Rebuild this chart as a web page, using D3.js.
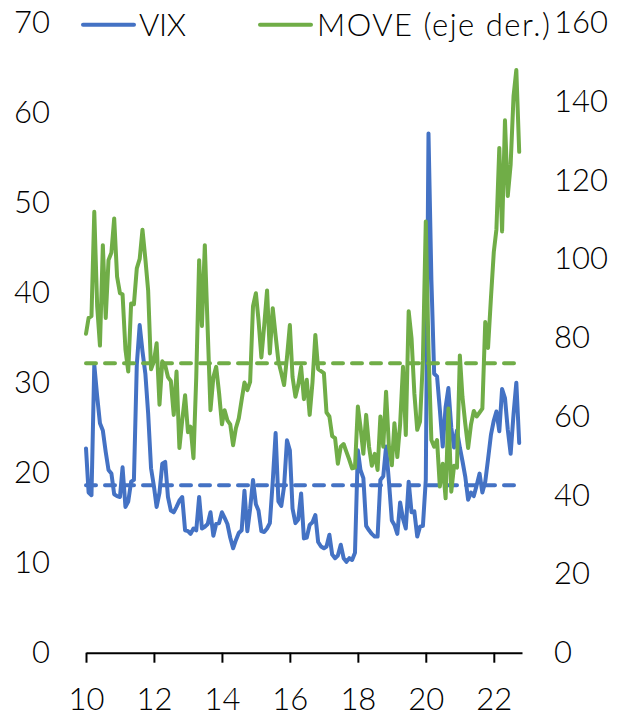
<!DOCTYPE html>
<html><head><meta charset="utf-8">
<script src="https://cdn.jsdelivr.net/npm/d3@7"></script>
<style>
body{margin:0;background:#fff}
svg{display:block}
text{font-family:Lato,"Open Sans",sans-serif;font-weight:300;fill:#000}
</style>
</head><body>
<svg id="chart" width="618" height="717"></svg>
<script>
// ---- data (monthly, Feb 2010 .. Nov 2022) ----
const startMonth = "2010-02-01";
const vix = [
22.7,17.8,17.5,32.0,28.5,25.5,24.7,22.3,20.3,19.9,17.6,17.4,
17.3,20.6,16.2,16.8,19.0,19.2,32.0,36.4,33.5,31.0,26.6,20.5,
18.5,16.2,17.8,21.0,21.2,17.3,15.8,15.6,16.2,16.9,17.3,13.6,
13.5,13.2,13.8,13.6,17.3,13.8,14.0,14.3,15.6,13.0,14.3,14.4,
15.6,15.0,14.3,12.8,11.6,12.5,13.3,13.6,18.0,13.5,16.0,19.2,
16.5,15.8,13.5,13.4,13.8,14.4,19.0,24.4,16.8,16.3,18.5,23.6,
22.5,16.0,14.4,14.8,17.7,12.7,12.8,14.2,14.5,15.3,12.3,11.8,
11.6,11.8,13.1,10.9,10.5,10.8,12.0,10.5,10.1,10.5,10.3,11.1,
22.5,20.3,19.4,14.1,13.6,13.2,12.9,12.9,19.2,19.6,22.9,19.0,
14.7,14.2,13.2,16.7,14.9,13.8,19.0,15.6,15.7,12.9,14.0,14.1,
19.2,57.7,41.5,31.0,30.7,27.0,22.9,27.3,29.4,25.0,22.8,24.7,
22.8,21.3,19.5,17.0,17.8,17.4,18.6,19.9,17.8,19.0,21.5,24.2,
25.8,26.8,24.6,29.3,28.3,24.8,22.1,26.5,30.0,23.3
];
const move = [
81.0,85.0,85.5,112.0,88.0,78.0,103.5,85.0,99.7,101.6,110.3,95.5,
91.3,91.0,77.0,71.4,88.7,88.5,97.6,100.0,107.4,100.0,92.0,72.0,
74.0,78.6,63.0,74.0,73.0,70.0,69.0,60.4,71.4,52.0,59.0,65.4,
56.0,57.4,49.4,70.0,99.7,83.0,103.5,82.0,61.6,70.0,72.6,66.0,
58.0,61.6,59.0,58.0,52.7,57.0,59.5,64.2,68.6,66.7,68.8,88.0,
91.3,84.5,75.0,83.0,92.0,76.0,87.5,80.5,74.0,71.0,68.0,75.0,
83.2,70.0,65.0,68.0,72.6,64.4,69.3,60.4,68.6,80.7,72.0,71.5,
71.0,61.0,60.0,55.0,54.5,48.0,52.3,53.0,51.0,49.0,46.8,47.0,
62.5,57.4,50.5,60.4,52.3,47.5,50.5,46.4,60.0,52.3,66.3,52.3,
47.6,58.3,49.7,58.0,72.6,55.3,86.7,79.8,65.9,56.6,58.7,74.3,
109.5,77.0,54.0,52.3,54.0,42.2,48.0,39.2,62.0,40.9,47.5,47.0,
75.5,65.0,58.0,52.0,58.0,61.4,60.0,61.0,62.0,84.0,77.4,90.0,
101.8,107.5,128.2,107.0,135.2,116.0,124.0,141.3,148.0,127.2
];
const vixAvg = 18.6;
const moveAvg = 73.5;
const leftTicks = [0,10,20,30,40,50,60,70];
const rightTicks = [0,20,40,60,80,100,120,140,160];
const seriesNames = ["VIX","MOVE (eje der.)"];
const seriesColors = ["#4472C4","#70AD47"];

// ---- layout ----
const svg = d3.select("#chart");
const x0 = 86, x1 = 522, yBase = 652.7, yTop = 22.7;
const dates = vix.map((_, i) => d3.timeMonth.offset(new Date(startMonth + "T00:00:00"), i));
const x = d3.scaleTime()
  .domain([dates[0], d3.timeMonth.offset(dates[dates.length - 1], 1)])
  .range([x0, x1]);
const yL = d3.scaleLinear().domain([0, 70]).range([yBase, yTop]);
const yR = d3.scaleLinear().domain([0, 160]).range([yBase, yTop]);
const FS = 31;

function styleText(sel) {
  sel.selectAll("text").style("font-size", FS + "px")
    .style("font-family", "Lato, 'Open Sans', sans-serif").style("font-weight", 300).attr("fill", "#000");
}

// left axis labels
const gL = svg.append("g").attr("transform", `translate(${x0},0)`)
  .call(d3.axisLeft(yL).tickValues(leftTicks).tickSize(0).tickPadding(36));
gL.select(".domain").remove();
styleText(gL);

// right axis labels
const gR = svg.append("g").attr("transform", `translate(${x1},0)`)
  .call(d3.axisRight(yR).tickValues(rightTicks).tickSize(0).tickPadding(32));
gR.select(".domain").remove();
styleText(gR);

// series
const lineL = d3.line().x((d, i) => x(dates[i])).y(d => yL(d));
const lineR = d3.line().x((d, i) => x(dates[i])).y(d => yR(d));
svg.append("path").datum(vix).attr("d", lineL)
  .attr("fill", "none").attr("stroke", seriesColors[0]).attr("stroke-width", 4)
  .attr("stroke-linejoin", "round").attr("stroke-linecap", "round");
svg.append("path").datum(vix.map(() => vixAvg)).attr("d", lineL)
  .attr("fill", "none").attr("stroke", seriesColors[0]).attr("stroke-width", 4)
  .attr("stroke-dasharray", "10,9").attr("stroke-linecap", "round");
svg.append("path").datum(move).attr("d", lineR)
  .attr("fill", "none").attr("stroke", seriesColors[1]).attr("stroke-width", 4)
  .attr("stroke-linejoin", "round").attr("stroke-linecap", "round");
svg.append("path").datum(move.map(() => moveAvg)).attr("d", lineR)
  .attr("fill", "none").attr("stroke", seriesColors[1]).attr("stroke-width", 4)
  .attr("stroke-dasharray", "10,9").attr("stroke-linecap", "round");

// bottom axis
const tickDates = dates.filter((d, i) => i % 24 === 0);
const gX = svg.append("g").attr("transform", `translate(0,${yBase})`)
  .call(d3.axisBottom(x).tickValues(tickDates).tickFormat(d3.timeFormat("%y"))
    .tickSize(10).tickSizeOuter(0).tickPadding(25));
gX.select(".domain").attr("stroke", "#000").attr("stroke-width", 2);
gX.selectAll(".tick line").attr("stroke", "#000").attr("stroke-width", 2);
styleText(gX);

// legend
const legY = yTop + 2;
const legend = [
  {name: seriesNames[0], color: seriesColors[0], lx: 83, tx: 139, w: 47},
  {name: seriesNames[1], color: seriesColors[1], lx: 260, tx: 317, w: 233}
];
legend.forEach(l => {
  svg.append("line").attr("x1", l.lx).attr("x2", l.lx + 51)
    .attr("y1", legY).attr("y2", legY)
    .attr("stroke", l.color).attr("stroke-width", 4).attr("stroke-linecap", "round");
  svg.append("text").attr("x", l.tx).attr("y", legY).attr("dy", "0.35em")
    .attr("textLength", l.w).attr("lengthAdjust", "spacing")
    .style("font-size", FS + "px").text(l.name);
});
</script>
</body></html>
